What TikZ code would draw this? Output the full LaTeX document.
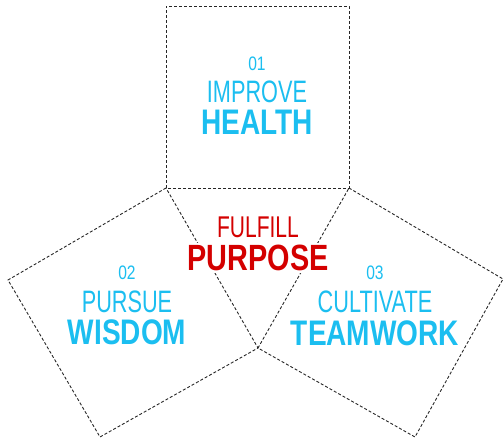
\documentclass[tikz,border=0pt]{standalone}
\usepackage{fontspec}
\setmainfont{Liberation Sans}
\newfontfamily\narrowfont[FakeStretch=0.70,
  BoldFeatures={FakeStretch=0.79}]{Liberation Sans}
\newfontfamily\numfont[FakeStretch=0.80]{Liberation Sans}
\usetikzlibrary{positioning}

\definecolor{goalblue}{RGB}{27,190,240}
\definecolor{goalred}{RGB}{212,0,0}

\tikzset{
  edge/.style={draw=black!85, dash pattern=on 3pt off 2pt, line width=0.9pt},
  num/.style={text=goalblue, inner sep=0pt,
    font=\numfont\fontsize{19.5}{19.5}\selectfont},
  verb/.style={text=goalblue, inner sep=0pt,
    font=\narrowfont\fontsize{31}{31}\selectfont},
  goal/.style={text=goalblue, inner sep=0pt,
    font=\narrowfont\bfseries\fontsize{35.5}{35.5}\selectfont},
  centre/.style={text=goalred, fill=white, inner sep=2pt}
}

\begin{document}
\begin{tikzpicture}[x=1pt,y=-1pt]
\useasboundingbox (0,0) rectangle (504,438);

% triangle in the middle
\coordinate (tri-l) at (166,188);
\coordinate (tri-r) at (349,188);
\coordinate (tri-b) at (258,348);

% outer corners of the three squares
\coordinate (sq1-a) at (166,6);
\coordinate (sq1-b) at (349,6);
\coordinate (sq2-a) at (8,280);
\coordinate (sq2-b) at (100,437);
\coordinate (sq3-a) at (503,279);
\coordinate (sq3-b) at (415,437);

\draw[edge] (tri-l) -- (sq1-a) -- (sq1-b) -- (tri-r) -- cycle;
\draw[edge] (tri-l) -- (sq2-a) -- (sq2-b) -- (tri-b) -- cycle;
\draw[edge] (tri-r) -- (sq3-a) -- (sq3-b) -- (tri-b) -- cycle;

% 01
\node[num] (num1) at (257,63.5) {01};
\node[verb, below=10pt of num1] (verb1) {IMPROVE};
\node[goal, below=6.5pt of verb1] (goal1) {HEALTH};

% 02
\node[num] (num2) at (127,272.5) {02};
\node[verb, below=11pt of num2] (verb2) {PURSUE};
\node[goal, below=7pt of verb2] (goal2) {WISDOM};

% 03
\node[num] (num3) at (375,273) {03};
\node[verb, below=11pt of num3] (verb3) {CULTIVATE};
\node[goal, below=7pt of verb3] (goal3) {TEAMWORK};

% centre
\node[centre, font=\narrowfont\fontsize{30}{30}\selectfont]
  (verb0) at (258,227.5) {FULFILL};
\node[centre, font=\narrowfont\bfseries\fontsize{36.5}{36.5}\selectfont,
  below=3pt of verb0] (goal0) {PURPOSE};

\end{tikzpicture}
\end{document}
